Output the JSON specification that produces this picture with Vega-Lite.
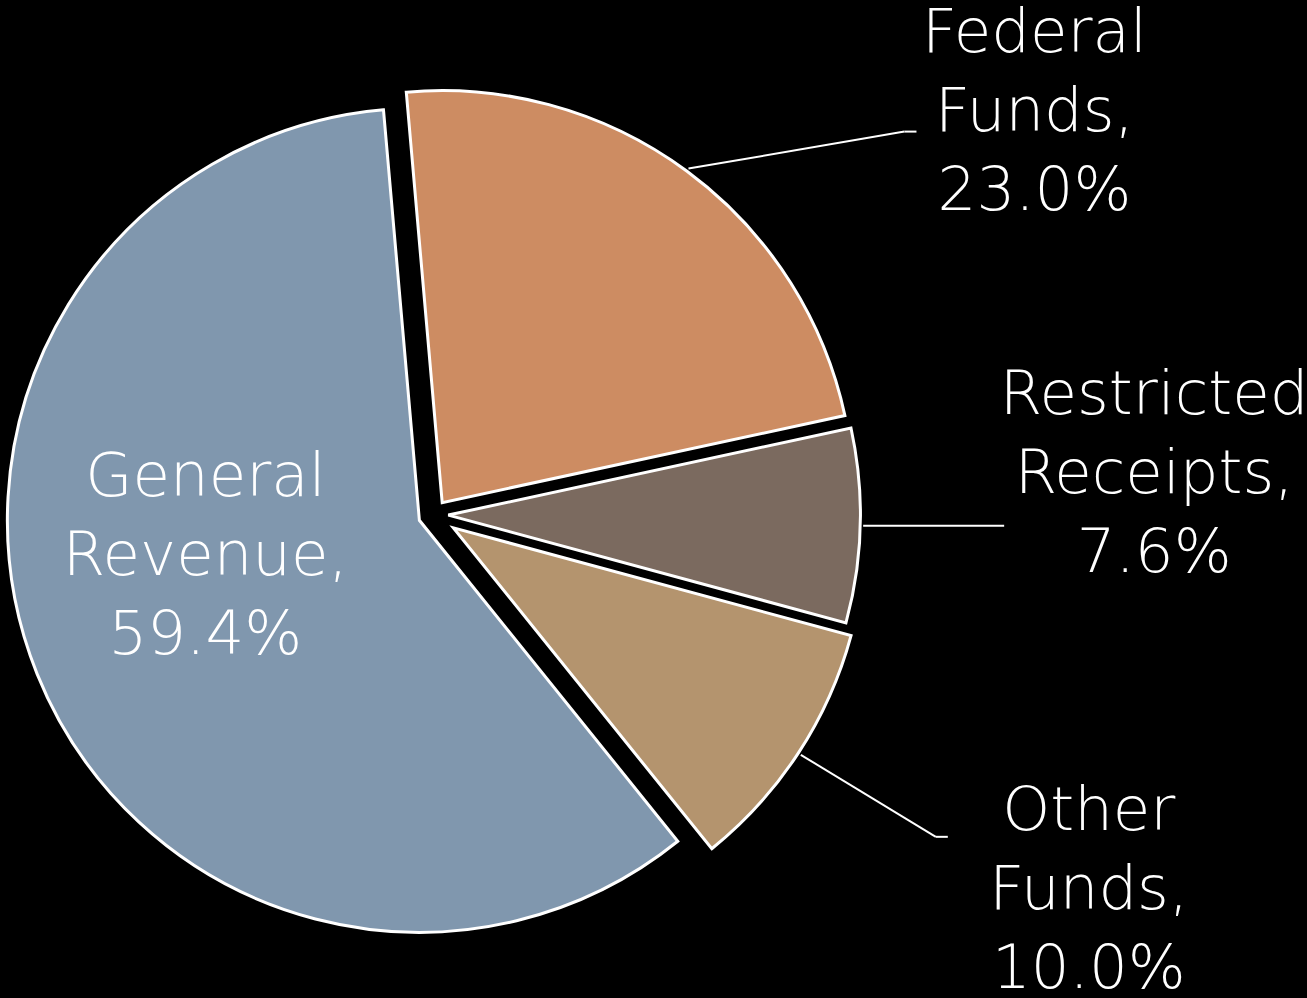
{
  "$schema": "https://vega.github.io/schema/vega-lite/v6.json",
  "width": 1307,
  "height": 998,
  "autosize": "none",
  "padding": 0,
  "background": "#000000",
  "view": {"stroke": null},
  "data": {
    "values": [
      {"name": "Federal Funds", "value": 23.0, "order": 1},
      {"name": "Restricted Receipts", "value": 7.6, "order": 2},
      {"name": "Other Funds", "value": 10.0, "order": 3},
      {"name": "General Revenue", "value": 59.4, "order": 4}
    ]
  },
  "transform": [
    {"stack": "value", "groupby": [], "sort": [{"field": "order", "order": "ascending"}], "as": ["v0", "v1"]},
    {"calculate": "(-5 + 1.8 * (datum.v0 + datum.v1)) * PI / 180", "as": "ang"},
    {"calculate": "datum.name === 'Other Funds' ? 24 : 15", "as": "ex"},
    {"calculate": "datum.ex * sin(datum.ang)", "as": "cx"},
    {"calculate": "-datum.ex * cos(datum.ang)", "as": "cy"},
    {"calculate": "(415 + datum.ex) * sin(datum.ang)", "as": "lx"},
    {"calculate": "-(415 + datum.ex) * cos(datum.ang)", "as": "ly"},
    {"calculate": "datum.name + ', ' + format(datum.value, '.1f') + '%'", "as": "label"}
  ],
  "layer": [
    {
      "mark": {"type": "arc", "radius": 412, "stroke": "#FFFFFF", "strokeWidth": 3},
      "encoding": {
        "x": {"field": "cx", "type": "quantitative", "axis": null, "scale": {"domain": [-433.3, 873.7], "nice": false, "zero": false}},
        "y": {"field": "cy", "type": "quantitative", "axis": null, "scale": {"domain": [-514.7, 483.3], "nice": false, "zero": false, "reverse": true}},
        "theta": {"field": "v0", "type": "quantitative", "stack": null, "scale": {"domain": [0, 100], "range": [-0.08727, 6.19592]}},
        "theta2": {"field": "v1"},
        "color": {
          "field": "name",
          "type": "nominal",
          "legend": null,
          "scale": {
            "domain": ["Federal Funds", "Restricted Receipts", "Other Funds", "General Revenue"],
            "range": ["#CD8C62", "#7B6A5F", "#B4946E", "#8097AE"]
          }
        }
      }
    },
    {
      "transform": [{"filter": "datum.name === 'General Revenue'"}],
      "mark": {"type": "text", "font": "DejaVu Sans", "fontWeight": 300, "fontSize": 61, "color": "#FFFFFF", "align": "center", "baseline": "middle", "lineBreak": " ", "lineHeight": 79, "dx": -214, "dy": -42},
      "encoding": {
        "x": {"field": "cx", "type": "quantitative", "axis": null},
        "y": {"field": "cy", "type": "quantitative", "axis": null},
        "text": {"field": "label", "type": "nominal"}
      }
    },
    {
      "transform": [{"filter": "datum.name === 'Federal Funds'"}],
      "mark": {"type": "rule", "color": "#FFFFFF", "strokeWidth": 2, "x2Offset": 216, "y2Offset": -37},
      "encoding": {
        "x": {"field": "lx", "type": "quantitative", "axis": null},
        "y": {"field": "ly", "type": "quantitative", "axis": null},
        "x2": {"field": "lx"},
        "y2": {"field": "ly"}
      }
    },
    {
      "transform": [{"filter": "datum.name === 'Federal Funds'"}],
      "mark": {"type": "rule", "color": "#FFFFFF", "strokeWidth": 2, "xOffset": 216, "x2Offset": 228, "yOffset": -37, "y2Offset": -37},
      "encoding": {
        "x": {"field": "lx", "type": "quantitative", "axis": null},
        "y": {"field": "ly", "type": "quantitative", "axis": null},
        "x2": {"field": "lx"},
        "y2": {"field": "ly"}
      }
    },
    {
      "transform": [{"filter": "datum.name === 'Federal Funds'"}],
      "mark": {"type": "text", "font": "DejaVu Sans", "fontWeight": 300, "fontSize": 61, "color": "#FFFFFF", "align": "center", "baseline": "middle", "lineBreak": " ", "lineHeight": 79, "dx": 346, "dy": -135},
      "encoding": {
        "x": {"field": "lx", "type": "quantitative", "axis": null},
        "y": {"field": "ly", "type": "quantitative", "axis": null},
        "text": {"field": "label", "type": "nominal"}
      }
    },
    {
      "transform": [{"filter": "datum.name === 'Restricted Receipts'"}],
      "mark": {"type": "rule", "color": "#FFFFFF", "strokeWidth": 2, "x2Offset": 141, "y2Offset": 0},
      "encoding": {
        "x": {"field": "lx", "type": "quantitative", "axis": null},
        "y": {"field": "ly", "type": "quantitative", "axis": null},
        "x2": {"field": "lx"},
        "y2": {"field": "ly"}
      }
    },
    {
      "transform": [{"filter": "datum.name === 'Restricted Receipts'"}],
      "mark": {"type": "text", "font": "DejaVu Sans", "fontWeight": 300, "fontSize": 61, "color": "#FFFFFF", "align": "center", "baseline": "middle", "lineBreak": " ", "lineHeight": 79, "dx": 291, "dy": -130},
      "encoding": {
        "x": {"field": "lx", "type": "quantitative", "axis": null},
        "y": {"field": "ly", "type": "quantitative", "axis": null},
        "text": {"field": "label", "type": "nominal"}
      }
    },
    {
      "transform": [{"filter": "datum.name === 'Other Funds'"}],
      "mark": {"type": "rule", "color": "#FFFFFF", "strokeWidth": 2, "x2Offset": 135, "y2Offset": 82},
      "encoding": {
        "x": {"field": "lx", "type": "quantitative", "axis": null},
        "y": {"field": "ly", "type": "quantitative", "axis": null},
        "x2": {"field": "lx"},
        "y2": {"field": "ly"}
      }
    },
    {
      "transform": [{"filter": "datum.name === 'Other Funds'"}],
      "mark": {"type": "rule", "color": "#FFFFFF", "strokeWidth": 2, "xOffset": 135, "x2Offset": 147, "yOffset": 82, "y2Offset": 82},
      "encoding": {
        "x": {"field": "lx", "type": "quantitative", "axis": null},
        "y": {"field": "ly", "type": "quantitative", "axis": null},
        "x2": {"field": "lx"},
        "y2": {"field": "ly"}
      }
    },
    {
      "transform": [{"filter": "datum.name === 'Other Funds'"}],
      "mark": {"type": "text", "font": "DejaVu Sans", "fontWeight": 300, "fontSize": 61, "color": "#FFFFFF", "align": "center", "baseline": "middle", "lineBreak": " ", "lineHeight": 79, "dx": 288, "dy": 57},
      "encoding": {
        "x": {"field": "lx", "type": "quantitative", "axis": null},
        "y": {"field": "ly", "type": "quantitative", "axis": null},
        "text": {"field": "label", "type": "nominal"}
      }
    }
  ]
}
